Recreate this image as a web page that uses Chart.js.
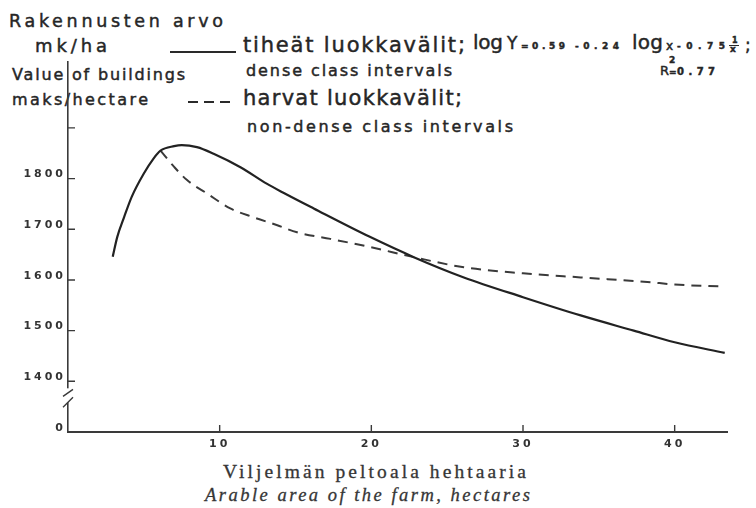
<!DOCTYPE html>
<html>
<head>
<meta charset="utf-8">
<script src="https://cdn.jsdelivr.net/npm/chart.js@4/dist/chart.umd.min.js"></script>
<style>
body { margin: 0; background: #fff; }
#wrap { position: relative; width: 756px; height: 508px; overflow: hidden; }
#c { position: absolute; left: 0; top: 0; z-index: 2; }
.t { position: absolute; white-space: nowrap; line-height: 1; color: #262626; font-family: "DejaVu Sans", sans-serif; -webkit-text-stroke: 0.45px #262626; }
.t i.bl { display: inline-block; width: 0; height: 0; vertical-align: baseline; }
.serif { font-family: "Liberation Serif", "DejaVu Serif", serif; color: #363636; -webkit-text-stroke: 0.3px #363636; }
.sample { position: absolute; height: 2px; background: #2a2a2a; }
</style>
</head>
<body>
<div id="wrap">
  <div class="t" data-x="9" data-b="27" data-w="214" style="font-size:17.5px">Rakennusten arvo</div>
  <div class="t" data-x="35" data-b="52" data-w="72" style="font-size:18px">mk/ha</div>
  <div class="sample" style="left:170px;top:51px;width:66px"></div>
  <div class="t" data-x="243" data-b="52" data-w="222" style="font-size:21px">tiheät luokkavälit;</div>
  <div class="t" data-x="473" data-b="49" data-w="30" style="font-size:20px">log</div>
  <div class="t" data-x="507" data-b="49" data-w="12" style="font-size:17px">Y</div>
  <div class="t" data-x="521" data-b="49" data-w="44" style="font-size:9px;font-weight:bold">=0.59</div>
  <div class="t" data-x="575" data-b="49" data-w="44" style="font-size:9px;font-weight:bold">-0.24</div>
  <div class="t" data-x="632" data-b="49" data-w="31" style="font-size:20px">log</div>
  <div class="t" data-x="666" data-b="50" data-w="9" style="font-size:12px">x</div>
  <div class="t" data-x="677" data-b="49" data-w="48" style="font-size:9px;font-weight:bold">-0.75</div>
  <div class="t" data-x="732" data-b="43" style="font-size:8px;font-weight:bold">1</div>
  <div class="sample" style="left:729px;top:45px;width:10px;height:1px"></div>
  <div class="t" data-x="730" data-b="52" style="font-size:9px;font-weight:bold">x</div>
  <div class="t" data-x="745" data-b="51" style="font-size:17px">;</div>
  <div class="t" data-x="246" data-b="76" data-w="206" style="font-size:16px">dense class intervals</div>
  <div class="t" data-x="660" data-b="75" data-w="9" style="font-size:13px">R</div>
  <div class="t" data-x="669" data-b="63" style="font-size:9px;font-weight:bold">2</div>
  <div class="t" data-x="669" data-b="75" style="font-size:9px;font-weight:bold">=</div>
  <div class="t" data-x="677" data-b="75" data-w="38" style="font-size:10px;font-weight:bold">0.77</div>
  <div class="t" data-x="12" data-b="80" data-w="173" style="font-size:16px">Value of buildings</div>
  <div class="t" data-x="12" data-b="105" data-w="136" style="font-size:16px">maks/hectare</div>
  <div class="sample" style="left:188px;top:101px;width:47px;background:repeating-linear-gradient(90deg,#2a2a2a 0 10px,transparent 10px 16px)"></div>
  <div class="t" data-x="243" data-b="105" data-w="219" style="font-size:21px">harvat luokkavälit;</div>
  <div class="t" data-x="247" data-b="132" data-w="266" style="font-size:16px">non-dense class intervals</div>
  <div class="t serif" data-x="223" data-b="478" data-w="303" style="font-size:19.5px">Viljelmän peltoala hehtaaria</div>
  <div class="t serif" data-x="205" data-b="501" data-w="325" style="font-size:18.5px;font-style:italic">Arable area of the farm, hectares</div>
  <canvas id="c" width="756" height="508"></canvas>
</div>
<script>
// arable area (ha) and value of buildings (mk/ha)
var denseArea = [2.95, 3.25, 3.7, 4.2, 5.0, 5.65, 6.1, 7.0, 7.5, 8.5, 9.6, 11.4, 13.1, 14.2, 16.2, 19.9, 22.8, 26.1, 30.0, 33.8, 37.3, 40.0, 43.3];
var denseValue = [1646, 1685, 1724, 1764, 1810, 1840, 1855, 1864, 1866, 1862, 1849, 1822, 1790, 1772, 1741, 1685, 1645, 1605, 1566, 1530, 1500, 1477, 1456];
var sparseArea = [6.1, 7.0, 7.85, 9.2, 10.7, 12.2, 13.8, 15.1, 17.3, 19.9, 22.8, 26.1, 30.0, 33.8, 38.2, 40.0, 43.2];
var sparseValue = [1855, 1823, 1797, 1770, 1741, 1724, 1708, 1694, 1681, 1665, 1645, 1625, 1613, 1605, 1596, 1591, 1587];

var xTicks = [10, 20, 30, 40];
var yTicks = [1300, 1400, 1500, 1600, 1700, 1800, 1900];
var yLabels = ['0', '1400', '1500', '1600', '1700', '1800', ''];

// put the html texts on their baselines and stretch them to width
document.querySelectorAll('.t').forEach(function(el){
  var m = document.createElement('i');
  m.className = 'bl';
  el.appendChild(m);
  var w = +el.dataset.w;
  if (w) {
    var n = el.textContent.length;
    var nat = el.getBoundingClientRect().width;
    if (n > 1) el.style.letterSpacing = ((w - nat) / (n - 1)) + 'px';
  }
  var r = el.getBoundingClientRect(), mr = m.getBoundingClientRect();
  el.style.left = el.dataset.x + 'px';
  el.style.top = (+el.dataset.b - (mr.top - r.top)) + 'px';
});

function pts(xs, ys){
  return xs.map(function(v, i){ return {x: v, y: ys[i]}; });
}

var axisBits = {
  id: 'axisBits',
  beforeDraw: function(chart){
    chart.ctx.letterSpacing = '3px';
  },
  afterDraw: function(chart){
    var ctx = chart.ctx, a = chart.chartArea, x = chart.scales.x, y = chart.scales.y;
    ctx.save();
    ctx.letterSpacing = '0px';
    ctx.strokeStyle = '#3a3a3a';
    ctx.lineWidth = 1.4;
    ctx.beginPath();
    xTicks.forEach(function(v){
      var px = x.getPixelForValue(v);
      ctx.moveTo(px, a.bottom); ctx.lineTo(px, a.bottom - 7);
    });
    yTicks.slice(1).forEach(function(v){
      var py = y.getPixelForValue(v);
      ctx.moveTo(a.left, py); ctx.lineTo(a.left + 7, py);
    });
    ctx.stroke();
    // broken axis between 0 and 1400
    var yb = y.getPixelForValue(1400);
    ctx.fillStyle = '#fff';
    ctx.fillRect(a.left - 3, yb + 7, 6, 14);
    ctx.beginPath();
    ctx.moveTo(a.left - 5, yb + 15); ctx.lineTo(a.left + 5, yb + 8);
    ctx.moveTo(a.left - 5, yb + 26); ctx.lineTo(a.left + 5, yb + 16);
    ctx.stroke();
    ctx.restore();
  }
};

var ctx = document.getElementById('c').getContext('2d');
var chart = new Chart(ctx, {
  type: 'line',
  data: {
    datasets: [{
      label: 'tiheät luokkavälit',
      data: pts(denseArea, denseValue),
      borderColor: '#222',
      borderWidth: 2.2,
      cubicInterpolationMode: 'monotone',
      pointRadius: 0
    }, {
      label: 'harvat luokkavälit',
      data: pts(sparseArea, sparseValue),
      borderColor: '#3a3a3a',
      borderWidth: 2,
      borderDash: [10, 7],
      cubicInterpolationMode: 'monotone',
      pointRadius: 0
    }]
  },
  options: {
    responsive: false,
    animation: false,
    devicePixelRatio: 1,
    layout: { padding: { top: 62, right: 29, left: 0, bottom: 0 } },
    plugins: { legend: { display: false }, tooltip: { enabled: false } },
    scales: {
      x: {
        type: 'linear',
        min: 0,
        max: 43.45,
        afterBuildTicks: function(s){ s.ticks = xTicks.map(function(v){ return {value: v}; }); },
        afterFit: function(s){ s.height = 76; },
        grid: { display: false, drawTicks: false },
        border: { color: '#3a3a3a', width: 2 },
        ticks: {
          autoSkip: false,
          maxRotation: 0,
          padding: 6,
          color: '#333',
          font: { family: 'DejaVu Sans', size: 11, weight: 'bold' }
        }
      },
      y: {
        min: 1300,
        max: 2030,
        afterBuildTicks: function(s){ s.ticks = yTicks.map(function(v){ return {value: v}; }); },
        afterFit: function(s){ s.width = 68; },
        grid: { display: false, drawTicks: false },
        border: { color: '#3a3a3a', width: 1.6 },
        ticks: {
          padding: 2,
          labelOffset: -4,
          color: '#333',
          font: { family: 'DejaVu Sans', size: 11, weight: 'bold' },
          callback: function(v){ return yLabels[yTicks.indexOf(v)]; }
        }
      }
    }
  },
  plugins: [axisBits]
});
</script>
</body>
</html>
